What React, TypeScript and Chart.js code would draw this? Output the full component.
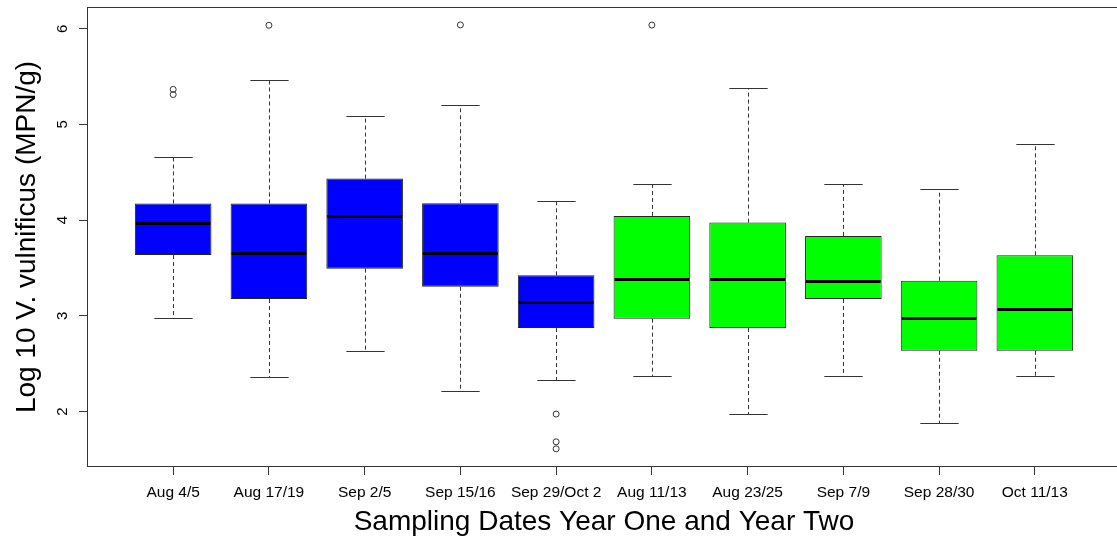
import React, { useEffect, useRef } from "react";
import { Chart, registerables } from "chart.js";

Chart.register(...registerables);

// ---- data ----
const categories = [
  "Aug 4/5",
  "Aug 17/19",
  "Sep 2/5",
  "Sep 15/16",
  "Sep 29/Oct 2",
  "Aug 11/13",
  "Aug 23/25",
  "Sep 7/9",
  "Sep 28/30",
  "Oct 11/13",
];
const studyYear = [1, 1, 1, 1, 1, 2, 2, 2, 2, 2];
const whiskerLow = [2.973, 2.365, 2.635, 2.209, 2.332, 2.366, 1.973, 2.366, 1.882, 2.366];
const quartile1 = [3.635, 3.175, 3.493, 3.304, 2.872, 2.97, 2.872, 3.176, 2.635, 2.635];
const medians = [3.974, 3.66, 4.047, 3.66, 3.147, 3.388, 3.388, 3.367, 2.973, 3.074];
const quartile3 = [4.174, 4.174, 4.434, 4.176, 3.423, 4.044, 3.974, 3.835, 3.367, 3.632];
const whiskerHigh = [4.661, 5.46, 5.086, 5.205, 4.204, 4.379, 5.376, 4.379, 4.322, 4.793];
const outlierBox = [1, 1, 2, 4, 5, 5, 5, 6];
const outlierValue = [5.366, 5.312, 6.036, 6.04, 1.973, 1.683, 1.61, 6.038];
const yTickValues = [2, 3, 4, 5, 6];

const yearColors: Record<number, string> = { 1: "#0000FF", 2: "#00FF00" };
const FONT = "'Liberation Sans', Arial, Helvetica, sans-serif";

const boxExtras = {
  id: "boxExtras",
  beforeDatasetsDraw(chart: any) {
    const { ctx, scales } = chart;
    const xs = scales.x;
    const ys = scales.y;
    const meta = chart.getDatasetMeta(0);
    ctx.save();
    ctx.strokeStyle = "#333333";
    ctx.lineWidth = 1;
    categories.forEach((_, i) => {
      const bar: any = meta.data[i];
      const cx = Math.round(xs.getPixelForValue(i + 1)) + 0.5;
      const half = bar.width / 4;
      const yHi = Math.round(ys.getPixelForValue(whiskerHigh[i])) + 0.5;
      const yLo = Math.round(ys.getPixelForValue(whiskerLow[i])) + 0.5;
      const yQ3 = ys.getPixelForValue(quartile3[i]);
      const yQ1 = ys.getPixelForValue(quartile1[i]);
      ctx.setLineDash([4, 3]);
      ctx.beginPath();
      ctx.moveTo(cx, yQ3);
      ctx.lineTo(cx, yHi);
      ctx.moveTo(cx, yQ1);
      ctx.lineTo(cx, yLo);
      ctx.stroke();
      ctx.setLineDash([]);
      ctx.beginPath();
      ctx.moveTo(cx - half, yHi);
      ctx.lineTo(cx + half, yHi);
      ctx.moveTo(cx - half, yLo);
      ctx.lineTo(cx + half, yLo);
      ctx.stroke();
    });
    ctx.restore();
  },
  afterDatasetsDraw(chart: any) {
    const { ctx, scales, chartArea } = chart;
    const ys = scales.y;
    const meta = chart.getDatasetMeta(0);
    ctx.save();
    ctx.strokeStyle = "#000000";
    ctx.lineWidth = 3;
    categories.forEach((_, i) => {
      const bar: any = meta.data[i];
      const ym = Math.round(ys.getPixelForValue(medians[i])) + 0.5;
      ctx.beginPath();
      ctx.moveTo(bar.x - bar.width / 2 + 1, ym);
      ctx.lineTo(bar.x + bar.width / 2 - 1, ym);
      ctx.stroke();
    });
    ctx.strokeStyle = "#333333";
    ctx.lineWidth = 1;
    ctx.strokeRect(
      chartArea.left + 0.5,
      chartArea.top + 0.5,
      chartArea.right - chartArea.left - 1,
      chartArea.bottom - chartArea.top - 1
    );
    ctx.restore();
  },
};

export default function App() {
  const ref = useRef<HTMLCanvasElement | null>(null);

  useEffect(() => {
    if (!ref.current) return;
    Chart.defaults.font.family = FONT;
    const chart = new Chart(ref.current, {
      type: "bar",
      data: {
        datasets: [
          {
            type: "bar",
            data: categories.map((_, i) => ({ x: i + 1, y: [quartile1[i], quartile3[i]] })) as any,
            backgroundColor: studyYear.map((yr) => yearColors[yr]),
            borderColor: "#222222",
            borderWidth: 1,
            borderSkipped: false,
            categoryPercentage: 0.8,
            barPercentage: 1,
          } as any,
          {
            type: "scatter",
            data: outlierBox.map((b, i) => ({ x: b, y: outlierValue[i] })),
            pointRadius: 3,
            pointStyle: "circle",
            backgroundColor: "rgba(0,0,0,0)",
            borderColor: "#333333",
            borderWidth: 1,
          } as any,
        ],
      },
      options: {
        animation: false,
        responsive: false,
        devicePixelRatio: 1,
        events: [],
        layout: { padding: { top: 7, right: 9, left: 0, bottom: 0 } },
        plugins: { legend: { display: false }, tooltip: { enabled: false } },
        scales: {
          x: {
            type: "linear",
            min: 0.1,
            max: 10.9,
            offset: false,
            afterBuildTicks: (s: any) => {
              s.ticks = categories.map((_, i) => ({ value: i + 1 }));
            },
            afterFit: (s: any) => {
              s.height = 75;
              s.paddingLeft = 0;
              s.paddingRight = 0;
            },
            ticks: {
              autoSkip: false,
              maxRotation: 0,
              minRotation: 0,
              padding: 8,
              color: "#000000",
              font: { size: 15.5, family: FONT },
              callback: (v: any) => categories[Math.round(Number(v)) - 1] ?? "",
            },
            grid: {
              display: true,
              drawOnChartArea: false,
              drawTicks: true,
              tickLength: 8,
              color: "#333333",
              offset: false,
            },
            border: { display: false },
            title: {
              display: true,
              text: "Sampling Dates Year One and Year Two",
              color: "#000000",
              font: { size: 28, family: FONT },
              padding: { top: 0, bottom: 3 },
            },
          } as any,
          y: {
            type: "linear",
            min: 1.42,
            max: 6.227,
            afterBuildTicks: (s: any) => {
              s.ticks = yTickValues.map((v) => ({ value: v }));
            },
            afterFit: (s: any) => {
              s.width = 87;
              s.paddingTop = 0;
              s.paddingBottom = 0;
            },
            ticks: {
              minRotation: 90,
              maxRotation: 90,
              crossAlign: "center",
              padding: 12,
              color: "#000000",
              font: { size: 15, family: FONT },
              callback: (v: any) => String(v),
            },
            grid: {
              display: true,
              drawOnChartArea: false,
              drawTicks: true,
              tickLength: 8,
              color: "#333333",
            },
            border: { display: false },
            title: {
              display: true,
              text: "Log 10 V. vulnificus (MPN/g)",
              color: "#000000",
              font: { size: 28, family: FONT },
              padding: { top: 10, bottom: 0 },
            },
          } as any,
        },
      },
      plugins: [boxExtras],
    });
    return () => chart.destroy();
  }, []);

  return (
    <div
      style={{
        position: "fixed",
        left: 0,
        top: 0,
        width: 1117,
        height: 542,
        overflow: "hidden",
        background: "#ffffff",
      }}
    >
      <canvas
        ref={ref}
        width={1130}
        height={542}
        style={{ display: "block", width: 1130, height: 542 }}
      />
    </div>
  );
}
